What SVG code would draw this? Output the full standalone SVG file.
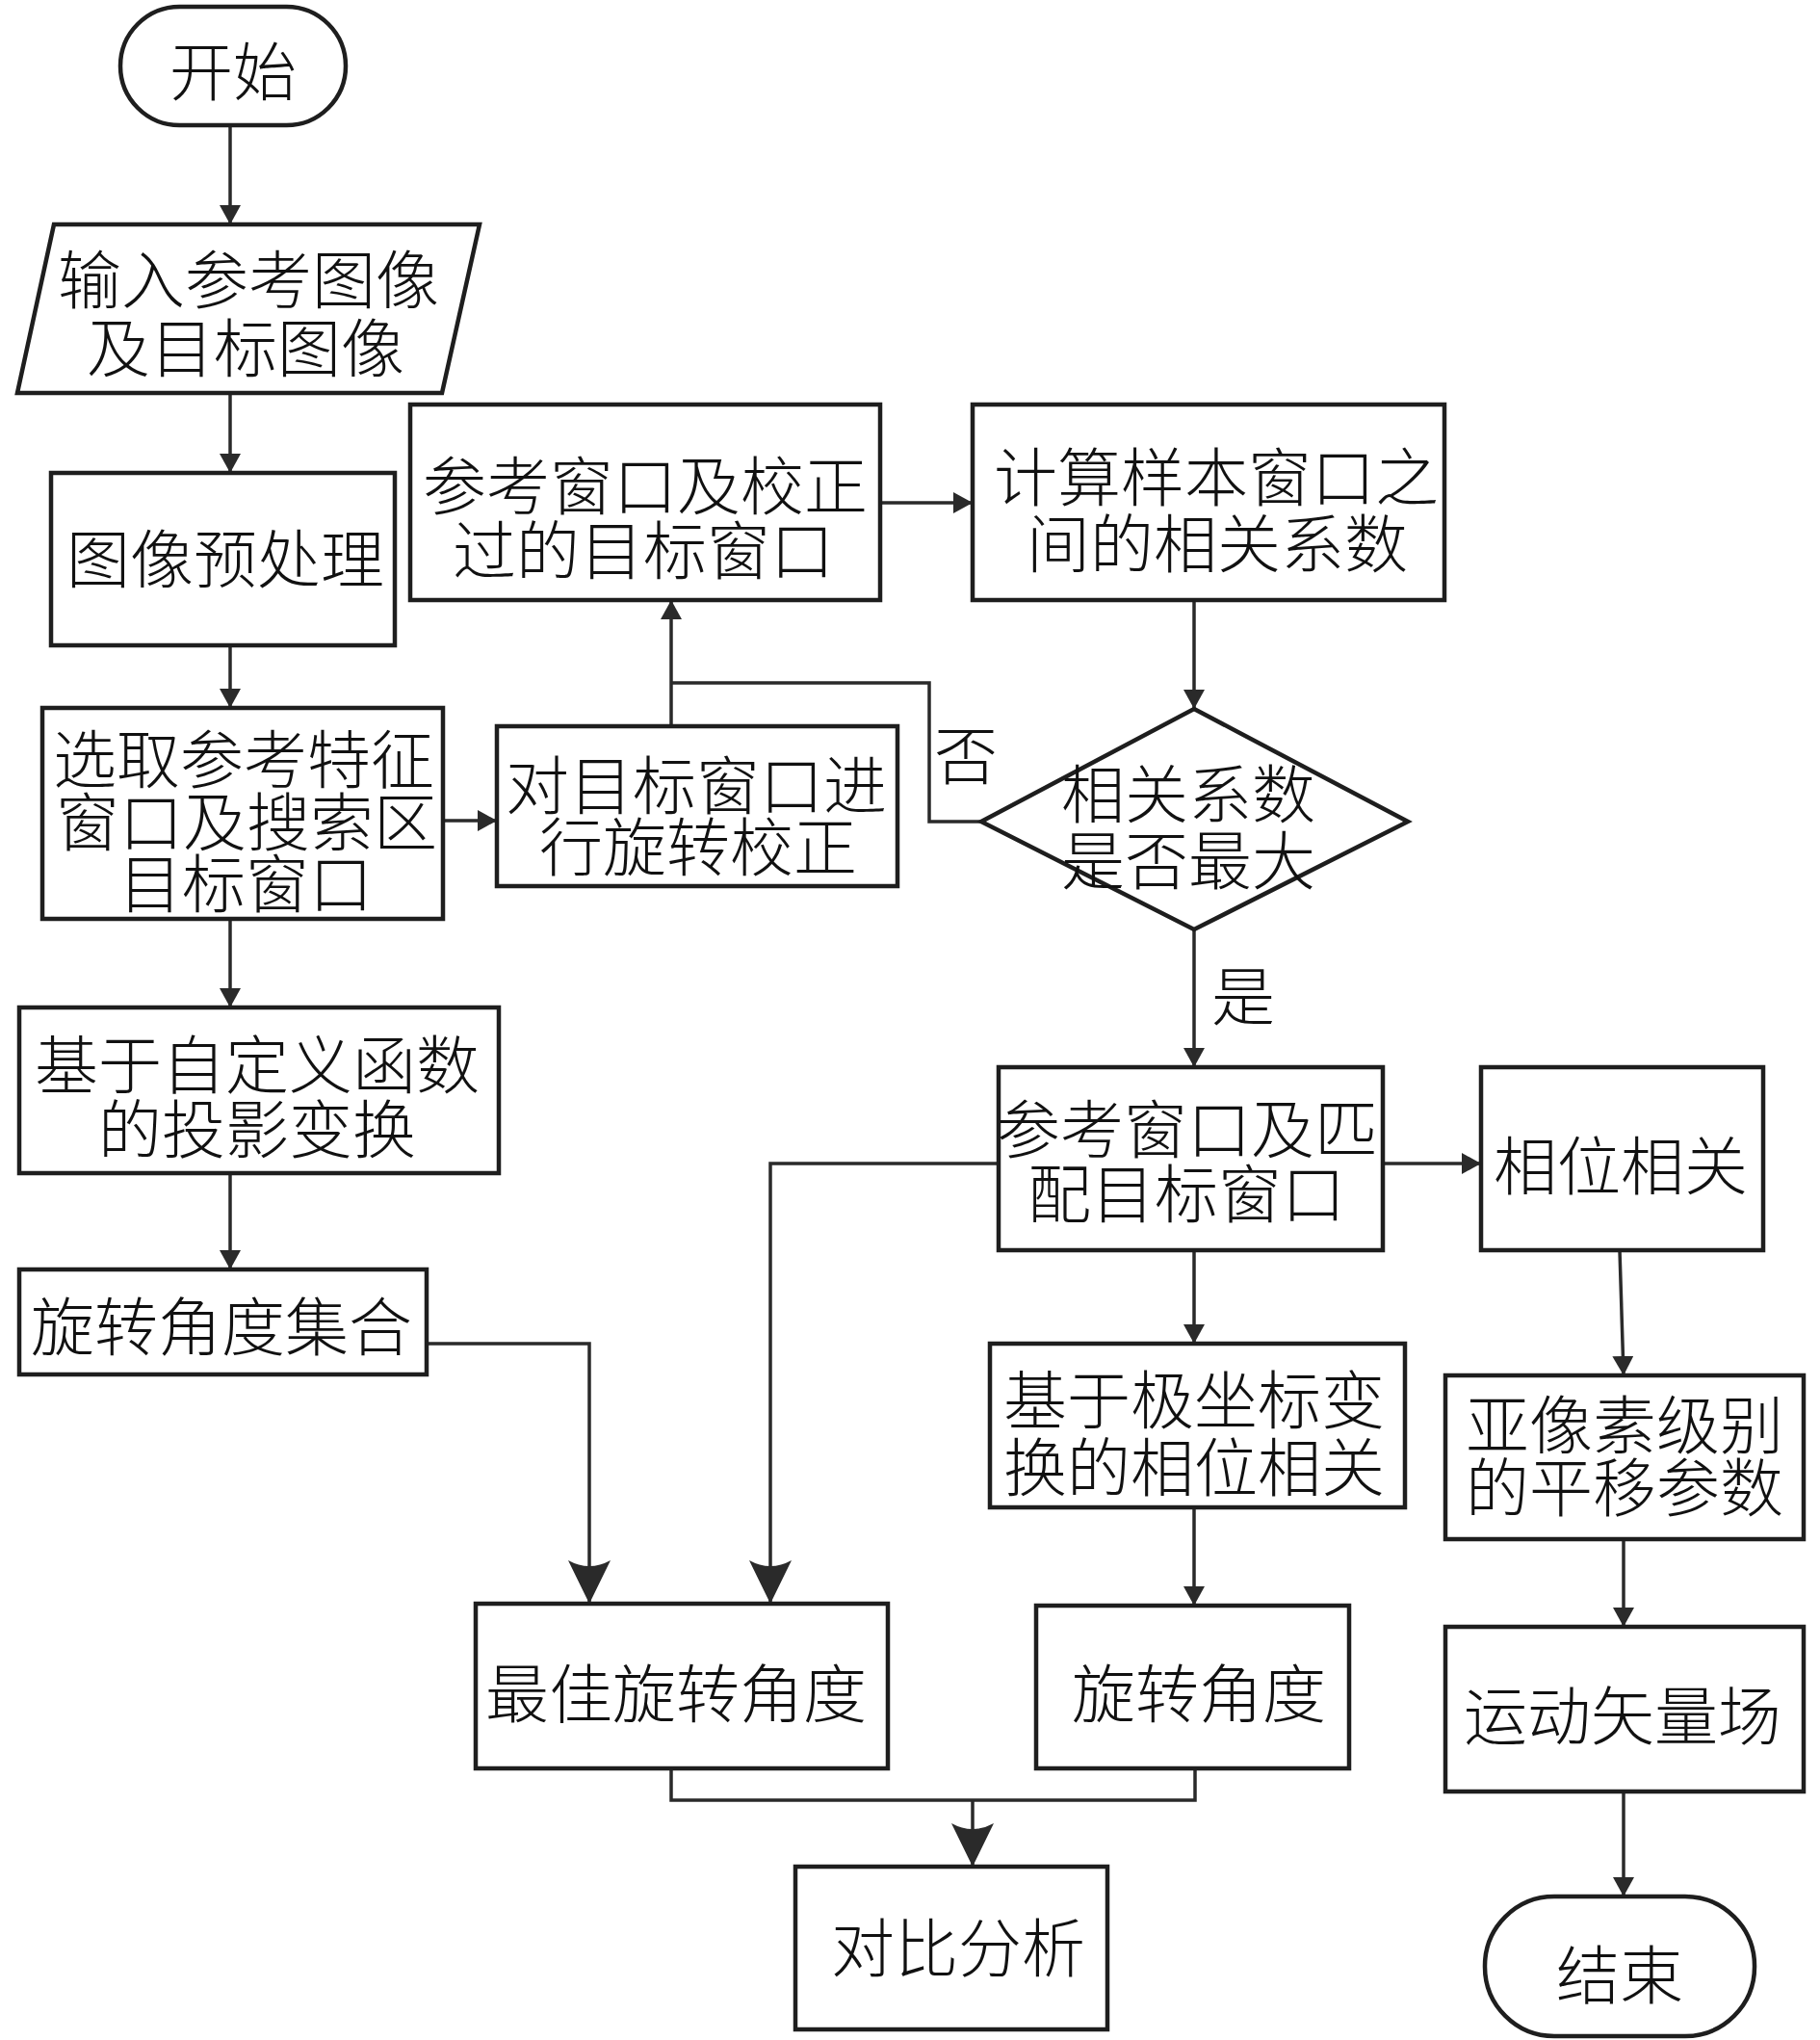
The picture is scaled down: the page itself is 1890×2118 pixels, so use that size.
<svg xmlns="http://www.w3.org/2000/svg" width="1890" height="2118" viewBox="0 0 1890 2118">
<style>
.n{fill:#fff;stroke:#1e1e1e;stroke-width:4.5}
.t{font-family:"Noto Sans CJK SC","Noto Sans CJK JP",sans-serif;font-size:66px;font-weight:300;fill:#111;text-anchor:middle;dominant-baseline:central}
.c{fill:none;stroke:#2a2a2a;stroke-width:3.5}
</style>
<defs>
<marker id="a" markerUnits="userSpaceOnUse" markerWidth="22" markerHeight="22" refX="20" refY="11" orient="auto">
<path d="M0,0 L20,11 L0,22 z" fill="#2a2a2a"/>
</marker>
<marker id="b" markerUnits="userSpaceOnUse" markerWidth="46" markerHeight="44" refX="45" refY="22" orient="auto">
<path d="M0,0 L45,22 L0,44 Q12,22 0,0 z" fill="#2a2a2a"/>
</marker>
</defs>
<rect width="1890" height="2118" fill="#fff"/>
<g id="connectors">
<path class="c" d="M239,130 V233" marker-end="url(#a)"/>
<path class="c" d="M239,408 V491" marker-end="url(#a)"/>
<path class="c" d="M239,670 V735" marker-end="url(#a)"/>
<path class="c" d="M239,954 V1046" marker-end="url(#a)"/>
<path class="c" d="M239,1218 V1318" marker-end="url(#a)"/>
<path class="c" d="M460,852 H516" marker-end="url(#a)"/>
<path class="c" d="M697,754 V623" marker-end="url(#a)"/>
<path class="c" d="M1019,853 H965 V709 H697"/>
<path class="c" d="M914,522 H1010" marker-end="url(#a)"/>
<path class="c" d="M1240,623 V736" marker-end="url(#a)"/>
<path class="c" d="M1240,965 V1108" marker-end="url(#a)"/>
<path class="c" d="M1436,1208 H1538" marker-end="url(#a)"/>
<path class="c" d="M1037,1208 H800 V1665" marker-end="url(#b)"/>
<path class="c" d="M443,1395 H612 V1665" marker-end="url(#b)"/>
<path class="c" d="M1240,1298 V1395" marker-end="url(#a)"/>
<path class="c" d="M1240,1565 V1667" marker-end="url(#a)"/>
<path class="c" d="M1682,1298 L1686,1428" marker-end="url(#a)"/>
<path class="c" d="M1686,1598 V1689" marker-end="url(#a)"/>
<path class="c" d="M1686,1860 V1969" marker-end="url(#a)"/>
<path class="c" d="M697,1836 V1869 H1241 V1836"/>
<path class="c" d="M1010,1869 V1938" marker-end="url(#b)"/>
<text class="t" x="1003" y="780">否</text>
<text class="t" x="1291" y="1030">是</text>
</g>
<g id="start">
<rect class="n" x="125" y="7" width="234" height="123" rx="61.5"/>
<text class="t" x="242" y="70">开始</text>
</g>
<g id="input">
<polygon class="n" points="56,233 498,233 459,408 18,408"/>
<text class="t"><tspan x="258" y="286">输入参考图像</tspan><tspan x="255" y="357">及目标图像</tspan></text>
</g>
<g id="preprocess">
<rect class="n" x="53" y="491" width="357" height="179"/>
<text class="t" x="234" y="576">图像预处理</text>
</g>
<g id="select">
<rect class="n" x="44" y="735" width="416" height="219"/>
<text class="t"><tspan x="253" y="784">选取参考特征</tspan><tspan x="256" y="849">窗口及搜索区</tspan><tspan x="255" y="913">目标窗口</tspan></text>
</g>
<g id="projection">
<rect class="n" x="20" y="1046" width="498" height="172"/>
<text class="t"><tspan x="267" y="1101">基于自定义函数</tspan><tspan x="267" y="1168">的投影变换</tspan></text>
</g>
<g id="angleset">
<rect class="n" x="20" y="1318" width="423" height="109"/>
<text class="t" x="230" y="1373">旋转角度集合</text>
</g>
<g id="corrected">
<rect class="n" x="426" y="420" width="488" height="203"/>
<text class="t"><tspan x="670" y="500">参考窗口及校正</tspan><tspan x="668" y="567">过的目标窗口</tspan></text>
</g>
<g id="rotate">
<rect class="n" x="516" y="754" width="416" height="166"/>
<text class="t"><tspan x="723" y="811">对目标窗口进</tspan><tspan x="725" y="875">行旋转校正</tspan></text>
</g>
<g id="compute">
<rect class="n" x="1010" y="420" width="490" height="203"/>
<text class="t"><tspan x="1263" y="491">计算样本窗口之</tspan><tspan x="1264" y="560">间的相关系数</tspan></text>
</g>
<g id="decision">
<polygon class="n" points="1240,736 1462,853 1240,965 1019,853"/>
<text class="t"><tspan x="1234" y="820">相关系数</tspan><tspan x="1234" y="889">是否最大</tspan></text>
</g>
<g id="matched">
<rect class="n" x="1037" y="1108" width="399" height="190"/>
<text class="t"><tspan x="1233" y="1168">参考窗口及匹</tspan><tspan x="1232" y="1235">配目标窗口</tspan></text>
</g>
<g id="phase">
<rect class="n" x="1538" y="1108" width="293" height="190"/>
<text class="t" x="1683" y="1206">相位相关</text>
</g>
<g id="polar">
<rect class="n" x="1028" y="1395" width="431" height="170"/>
<text class="t"><tspan x="1240" y="1449">基于极坐标变</tspan><tspan x="1240" y="1519">换的相位相关</tspan></text>
</g>
<g id="angle">
<rect class="n" x="1076" y="1667" width="325" height="169"/>
<text class="t" x="1245" y="1754">旋转角度</text>
</g>
<g id="best">
<rect class="n" x="494" y="1665" width="428" height="171"/>
<text class="t" x="702" y="1754">最佳旋转角度</text>
</g>
<g id="compare">
<rect class="n" x="826" y="1938" width="324" height="169"/>
<text class="t" x="995" y="2018">对比分析</text>
</g>
<g id="subpixel">
<rect class="n" x="1501" y="1428" width="372" height="170"/>
<text class="t"><tspan x="1687" y="1475">亚像素级别</tspan><tspan x="1687" y="1540">的平移参数</tspan></text>
</g>
<g id="motion">
<rect class="n" x="1501" y="1689" width="372" height="171"/>
<text class="t" x="1685" y="1777">运动矢量场</text>
</g>
<g id="end">
<rect class="n" x="1542" y="1969" width="280" height="145" rx="72"/>
<text class="t" x="1682" y="2046">结束</text>
</g>
</svg>
